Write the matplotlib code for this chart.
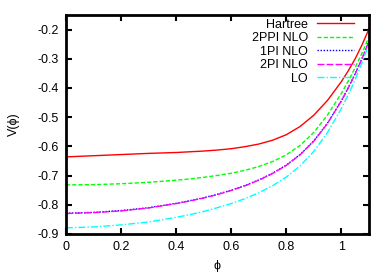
import matplotlib
matplotlib.use("Agg")
import matplotlib.pyplot as plt

plt.rcParams["font.family"] = ["Liberation Sans", "DejaVu Sans"]
plt.rcParams["axes.unicode_minus"] = False

# phi values shared by all curves
phi = [0.0, 0.1, 0.2, 0.3, 0.4, 0.45, 0.5, 0.55, 0.6, 0.65, 0.7, 0.75, 0.8,
       0.85, 0.9, 0.95, 1.0, 1.025, 1.05, 1.075, 1.1]

hartree = [-0.636, -0.632, -0.628, -0.624, -0.621, -0.6185, -0.616, -0.6125,
           -0.608, -0.601, -0.592, -0.579, -0.560, -0.532, -0.493, -0.442,
           -0.378, -0.341, -0.300, -0.252, -0.198]
nlo_2ppi = [-0.732, -0.731, -0.728, -0.723, -0.716, -0.7115, -0.706, -0.6995,
            -0.692, -0.682, -0.669, -0.652, -0.629, -0.597, -0.552, -0.492,
            -0.418, -0.376, -0.330, -0.280, -0.225]
nlo_1pi = [-0.829, -0.826, -0.820, -0.810, -0.795, -0.786, -0.776, -0.764,
           -0.750, -0.734, -0.715, -0.692, -0.664, -0.628, -0.581, -0.520,
           -0.443, -0.399, -0.351, -0.298, -0.240]
nlo_2pi = [-0.830, -0.827, -0.821, -0.811, -0.796, -0.787, -0.777, -0.765,
           -0.751, -0.735, -0.716, -0.693, -0.665, -0.629, -0.582, -0.521,
           -0.444, -0.400, -0.352, -0.299, -0.241]
lo = [-0.879, -0.876, -0.869, -0.859, -0.843, -0.834, -0.823, -0.810,
      -0.796, -0.779, -0.759, -0.735, -0.705, -0.667, -0.617, -0.552,
      -0.470, -0.423, -0.371, -0.313, -0.250]

xticks = [0, 0.2, 0.4, 0.6, 0.8, 1]
xtick_labels = ["0", "0.2", "0.4", "0.6", "0.8", "1"]
yticks = [-0.9, -0.8, -0.7, -0.6, -0.5, -0.4, -0.3, -0.2]
ytick_labels = ["-0.9", "-0.8", "-0.7", "-0.6", "-0.5", "-0.4", "-0.3", "-0.2"]

fig = plt.figure(figsize=(3.9, 2.73), dpi=100)
ax = fig.add_axes([0.169, 0.143, 0.777, 0.802])

ax.plot(phi, hartree, color="#ff0000", lw=1.0, label="Hartree")
ax.plot(phi, nlo_2ppi, color="#00ff00", lw=1.0, ls=(0, (3, 1.5)), label="2PPI NLO")
ax.plot(phi, nlo_1pi, color="#0000ff", lw=1.0, ls=(0, (1, 1.2)), label="1PI NLO")
ax.plot(phi, nlo_2pi, color="#ff00ff", lw=1.0, ls=(0, (5, 1.5)), label="2PI NLO")
ax.plot(phi, lo, color="#00ffff", lw=1.0, ls=(0, (5, 1.5, 1, 1.5)), label="LO")

ax.set_xlim(0, 1.1)
ax.set_ylim(-0.9, -0.15)
ax.set_xticks(xticks)
ax.set_xticklabels(xtick_labels)
ax.set_yticks(yticks)
ax.set_yticklabels(ytick_labels)
ax.tick_params(direction="in", top=True, right=True, length=4, width=1.5,
               labelsize=9, pad=5)
for s in ax.spines.values():
    s.set_linewidth(2)

ax.set_xlabel("\u03d5", fontsize=9, labelpad=5)
ax.set_ylabel("V(\u03d5)", fontsize=9, labelpad=13)

ax.legend(loc="upper right", bbox_to_anchor=(0.978, 1.02), frameon=False,
          markerfirst=False, fontsize=9, handlelength=3.0, handletextpad=0.7,
          labelspacing=0.12, borderaxespad=0.25)

fig.savefig("out.png", dpi=100)
